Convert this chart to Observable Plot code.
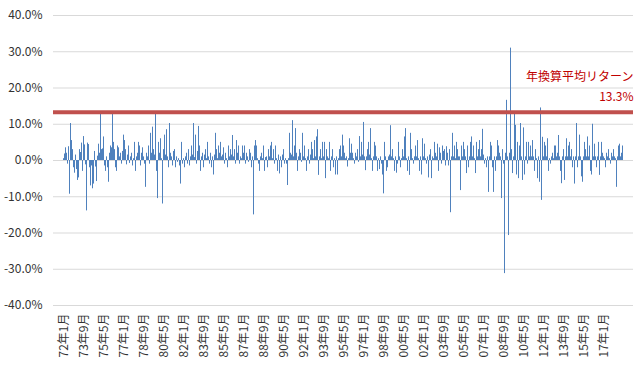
<!DOCTYPE html>
<html><head><meta charset="utf-8">
<script src="https://cdn.jsdelivr.net/npm/d3@7"></script>
<script src="https://cdn.jsdelivr.net/npm/@observablehq/plot@0.6"></script>
<style>
html,body{margin:0;padding:0;background:#fff;}
#chart{width:640px;height:368px;overflow:hidden;}
</style>
</head><body><div id="chart"></div>
<script>
// Monthly returns (%), 1972年1月 〜 2018年8月
const r1970s = [
  0.5, 1.8, 3.5, 2.0, -1.0, 3.8, -9.3, 10.2, 5.5, 3.0, -2.0, -3.5,
  1.5, -2.5, -5.5, -4.8, 3.0, 2.2, 4.8, -3.0, 6.6, 4.3, -1.2, -13.9,
  4.8, 4.4, -2.0, -7.0, -1.5, -7.8, -6.5, 2.5, -1.8, -5.8, 1.2, 4.5,
  2.0, 13.5, 3.0, 3.2, 6.5, -1.5, -3.0, 1.0, -2.0, -6.0, 2.0, 4.0,
  3.5, 13.0, 5.0, 3.0, -2.0, -3.0, 4.0, 3.5, 1.0, 2.0, -1.0, 2.5,
  7.0, 5.5, 3.0, -1.2, 1.5, 4.0, -0.8, 1.0, 2.0, -1.5, 0.5, 5.0,
  -3.0, 1.0, 2.0, 5.0, 4.0, -1.5, 2.0, 3.5, 1.0, -1.0, -7.4, 2.0,
  1.0, 4.0, -1.0, 7.5, 2.0, 9.2, 3.0, 1.5, 13.0, -3.0, -10.5, 5.0
];
const r1980s = [
  2.0, 6.0, 0.5, -12.0, 3.0, 7.0, 1.5, 8.5, 1.0, -2.0, 10.2, 2.0,
  1.0, -1.5, 2.5, 3.0, -2.0, 1.0, -0.5, 0.5, -1.5, -6.5, 5.0, -1.0,
  0.5, -2.0, 1.0, 2.0, -1.0, 3.0, -1.5, 1.0, 4.0, 1.5, 10.2, 0.8,
  7.0, -1.0, 2.5, 9.4, 4.0, -3.0, 1.0, 2.0, -2.0, 1.5, 3.0, 0.5,
  5.0, 1.0, -1.0, 2.0, -2.0, 1.0, -4.0, 1.5, 7.5, 3.0, 0.5, 4.0,
  2.0, 5.0, 1.0, 1.5, 3.5, -1.0, 2.0, 0.5, -2.0, 4.0, 1.0, 3.0,
  1.5, 6.9, 1.0, 3.0, -1.0, 5.5, 2.0, 4.0, -1.0, 1.0, 0.5, 4.0,
  2.0, 4.0, -1.0, 2.0, 1.0, -0.5, 3.0, 2.0, -2.0, 1.0, -15.0, 4.0,
  5.5, 4.0, 0.5, -1.0, -3.0, 1.0, 2.0, 0.5, 4.0, -3.0, 0.8, 1.0,
  -2.0, 3.0, 1.0, 4.0, 5.0, 0.5, 3.0, -1.0, 4.0, 0.5, -3.0, 1.5
];
const r1990s = [
  -3.7, 1.0, -2.0, 1.5, 3.0, -1.0, 0.5, -1.0, -6.9, 0.5, 7.5, 2.0,
  1.5, 11.0, 1.0, 4.0, 8.8, 2.0, -3.0, 1.0, 3.0, 2.0, -0.5, 7.5,
  1.0, 4.0, 0.5, -3.0, 1.0, 3.0, -1.0, 1.5, 5.0, 3.0, 0.5, 5.5,
  1.0, 6.5, 8.5, -4.1, 1.0, 3.0, 0.5, 5.0, 1.0, 5.0, -5.0, 3.0,
  1.0, 0.5, 5.0, -3.0, 1.0, 3.0, -2.0, 0.5, -4.0, 1.0, -4.0, 0.5,
  3.0, 4.0, 1.0, 7.0, 4.0, 2.0, 0.5, 1.0, -1.8, 0.5, 6.0, 2.0,
  4.5, 2.0, 0.5, -1.0, 2.0, 1.0, 3.0, -0.5, 6.6, 1.0, 5.0, 1.5,
  10.5, 1.0, -2.8, 1.0, 3.0, 5.0, 1.5, 8.8, 0.5, -3.0, 1.0, 5.0,
  4.0, 1.0, -3.0, 0.5, -2.5, 1.0, -1.0, -4.0, -9.2, 5.0, 1.0, -3.0,
  -2.0, 1.0, 1.5, 9.6, 1.0, 3.0, 0.5, -3.0, 1.0, -3.5, -1.0, 5.0
];
const r2000s = [
  1.0, -2.0, 0.5, 3.0, 1.0, 6.5, 8.8, 0.5, -3.0, 1.0, -4.1, 7.5,
  3.0, 0.5, -1.0, 1.0, 4.0, 1.0, 5.5, 0.5, -3.0, 1.0, -4.0, 6.0,
  1.0, 4.5, 0.5, -1.0, 1.0, -4.8, 1.5, 3.0, -5.0, 1.0, 0.5, 5.0,
  2.0, 1.0, 4.5, -3.0, 3.5, 2.0, -1.0, 4.0, 2.5, 3.0, -1.5, 3.8,
  2.0, -1.5, 3.0, -14.4, 1.0, 7.5, 1.0, 4.0, 0.5, 5.0, 3.0, 1.0,
  1.0, -8.3, 4.0, 1.0, 5.0, 3.0, 1.0, -3.6, 4.0, -2.0, 1.0, 5.0,
  6.5, 1.0, 4.0, 0.5, -3.6, 5.0, 1.0, 3.0, 5.5, 1.0, 3.0, 8.6,
  1.5, -1.0, 0.5, -2.0, 1.0, -8.8, 1.0, 5.0, 4.0, -2.0, -8.8, 1.0,
  -3.0, 1.0, 5.5, 4.0, 2.0, 1.0, -10.5, 3.0, -1.0, -31.2, 2.0, 16.6,
  1.0, -20.7, 2.0, 31.0, 3.0, -3.6, 1.0, 13.0, 9.7, -4.0, 5.0, -5.0
];
const r2010s = [
  4.0, 10.2, 1.0, -5.5, 9.0, -4.0, 1.0, 5.0, -1.0, 5.0, 1.0, 4.0,
  1.0, 5.5, 1.0, -3.0, 3.0, 0.5, -5.0, 1.0, -6.0, 14.5, -11.0, 6.4,
  1.0, 5.0, 4.0, 1.0, 6.0, -3.0, 0.5, -1.0, 1.0, 2.0, 0.5, 4.0,
  4.0, 1.0, 2.0, 6.9, 1.0, -3.0, -6.4, 1.0, 3.0, -5.5, 1.0, 6.0,
  1.0, 4.0, 5.0, 1.0, 3.0, -2.0, 1.0, -6.5, 1.0, 10.2, -2.0, 1.0,
  7.0, 1.0, -4.5, -6.0, 1.0, 5.0, 3.0, 1.0, 6.5, 1.0, 4.0, -3.0,
  -4.0, 10.0, 1.0, 4.5, 1.0, -2.0, 1.0, 5.0, -4.1, 1.0, 5.0, 2.0,
  1.0, 0.5, -2.0, 2.0, 1.0, 3.0, 0.5, -1.0, 2.0, 1.0, 3.0, 1.0,
  0.5, -7.4, 1.0, 4.0, 4.5, 1.0, 2.0, 4.0
];
const startYear = 1972;
const avgReturn = 13.3;
const avgLabel = "年換算平均リターン";
const avgValueLabel = "13.3%";
const tickLabels = ["72年1月","73年9月","75年5月","77年1月","78年9月","80年5月","82年1月","83年9月","85年5月","87年1月","88年9月","90年5月","92年1月","93年9月","95年5月","97年1月","98年9月","00年5月","02年1月","03年9月","05年5月","07年1月","08年9月","10年5月","12年1月","13年9月","15年5月","17年1月"];
const yTicks = [-40,-30,-20,-10,0,10,20,30,40];

const returns = [...r1970s, ...r1980s, ...r1990s, ...r2000s, ...r2010s];
const data = returns.map((v, i) => {
  const y = startYear + Math.floor(i / 12), m = (i % 12) + 1;
  return {month: `${String(y % 100).padStart(2, "0")}年${m}月`, value: v};
});
const font = "'Noto Sans CJK JP', 'Noto Sans', sans-serif";

const chart = Plot.plot({
  width: 640, height: 368,
  marginLeft: 53, marginRight: 7, marginTop: 15, marginBottom: 63,
  style: {fontFamily: font, fontSize: "12px", color: "#333", background: "#fff"},
  x: {type: "band", domain: data.map(d => d.month), padding: 0.1, axis: null},
  y: {domain: [-40, 40], axis: null},
  marks: [
    Plot.gridY(yTicks, {stroke: "#d9d9d9", strokeOpacity: 1}),
    Plot.axisY(yTicks, {tickSize: 0, tickPadding: 11, tickFormat: d => d.toFixed(1) + "%", label: null, fontSize: 12, fill: "#333"}),
    Plot.axisX({ticks: tickLabels, tickRotate: -90, tickSize: 0, tickPadding: 8, label: null, fontSize: 12, fill: "#333"}),
    Plot.barY(data, {x: "month", y: "value", fill: "#4f81bd"}),
    Plot.ruleY([avgReturn], {stroke: "#c0504d", strokeWidth: 4}),
    Plot.text([avgLabel], {y: [avgReturn], frameAnchor: "right", textAnchor: "end", dy: -35, fill: "#c00000", fontSize: 12}),
    Plot.text([avgValueLabel], {y: [avgReturn], frameAnchor: "right", textAnchor: "end", dy: -15, fill: "#c00000", fontSize: 12})
  ]
});
document.getElementById("chart").appendChild(chart);
</script>
</body></html>
